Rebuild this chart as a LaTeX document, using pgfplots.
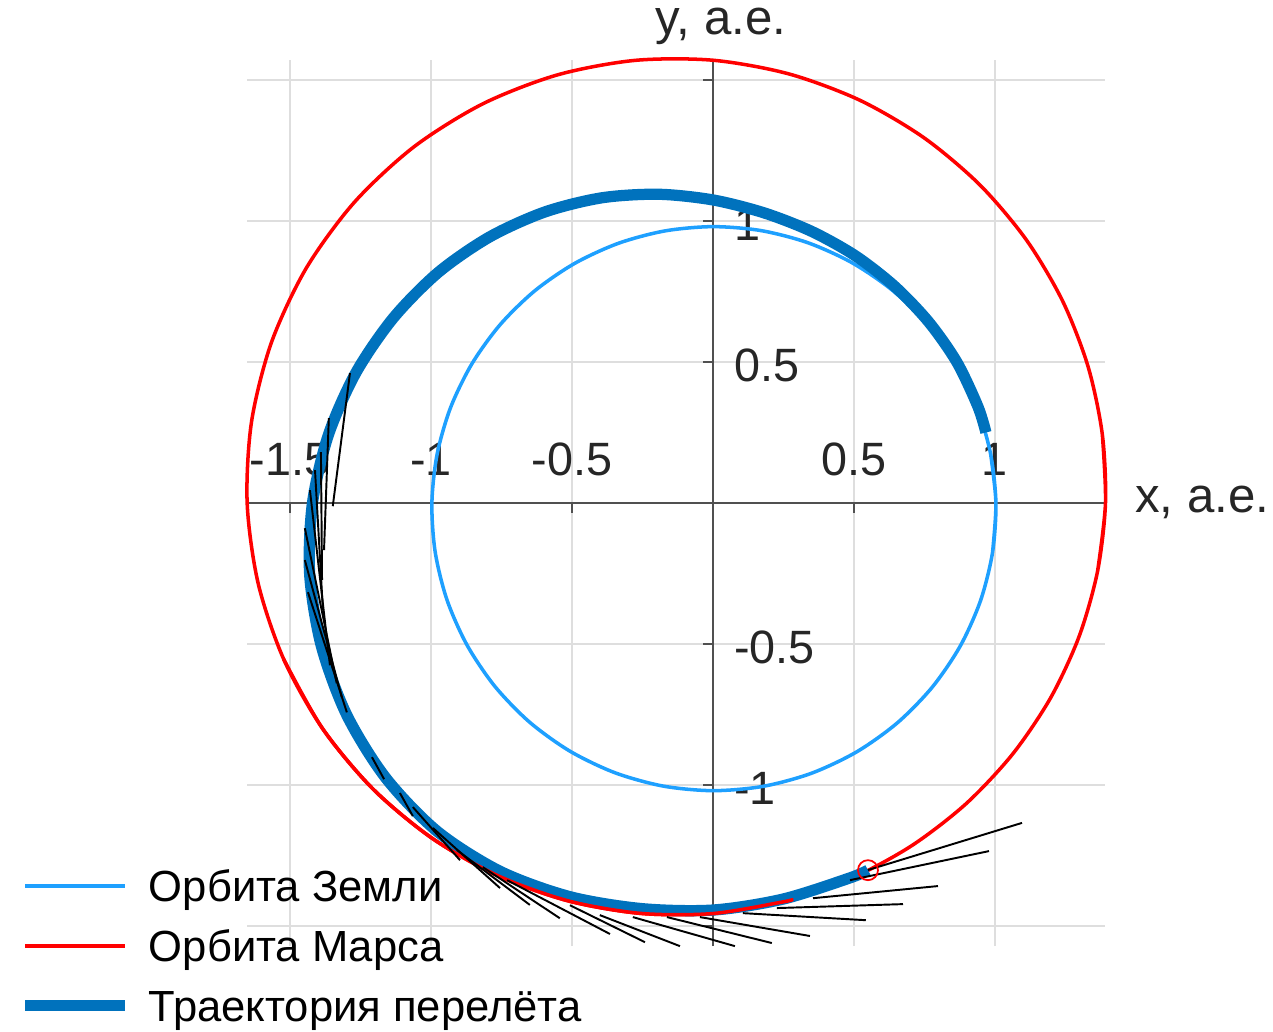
\documentclass[border=0pt]{standalone}
\usepackage{fontspec}
\setmainfont{Liberation Sans}
\usepackage{pgfplots}
\pgfplotsset{compat=1.18}

\definecolor{earthblue}{RGB}{30,160,255}
\definecolor{trajblue}{RGB}{0,114,189}
\definecolor{gridgray}{RGB}{222,222,222}
\definecolor{axisgray}{RGB}{80,80,80}
\definecolor{labelgray}{RGB}{38,38,38}

\begin{document}
\begin{tikzpicture}
\begin{axis}[
  set layers,
  x=2.82cm, y=2.82cm,
  xmin=-1.652, xmax=1.392, ymin=-1.571, ymax=1.572,
  clip=false,
  axis lines=middle,
  axis line style={-, draw=axisgray, line width=0.6pt},
  tick align=outside,
  major tick length=0.95mm,
  tick style={draw=axisgray, line width=0.6pt},
  xtick={-1.5,-1,-0.5,0.5,1},
  xticklabels={-1.5,-1,-0.5,0.5,1},
  ytick={-1.5,-1,-0.5,0.5,1,1.5},
  yticklabels={,-1,-0.5,0.5,1,},
  grid=major,
  major grid style={draw=gridgray, line width=0.55pt},
  every tick label/.append style={font=\fontsize{13.3}{15}\selectfont, text=labelgray, inner sep=0pt},
  xticklabel style={anchor=base, yshift=3.7mm},
  yticklabel style={anchor=base west, xshift=3mm, yshift=-1.9mm},
  xlabel={x, а.е.}, ylabel={y, а.е.},
  xlabel style={at={(current axis.right of origin)}, anchor=base west, xshift=2.9mm, yshift=-0.9mm,
    font=\fontsize{14}{16}\selectfont, text=labelgray, inner sep=0pt},
  ylabel style={at={(current axis.above origin)}, anchor=base, xshift=0.8mm, yshift=2.5mm,
    font=\fontsize{14}{16}\selectfont, text=labelgray, inner sep=0pt},
  legend cell align=left,
  legend image code/.code={\draw[#1] (0mm,0mm) -- (10mm,0mm);},
  legend style={draw=none, fill=none, at={(-0.2657,0.0965)}, anchor=north west,
    inner sep=0pt, row sep=1.1mm,
    /tikz/every odd column/.append style={column sep=1.8mm},
    nodes={inner sep=0pt, text height=4.0mm, text depth=0.9mm, font=\fontsize{12.4}{14}\selectfont}},
]

% Earth orbit (polar: angle in degrees, radius in AU)
\addplot[earthblue, line width=1pt, smooth, data cs=polar] coordinates {
 (-10,1.0068) (0,1.0035) (10,1.0) (20,0.9965) (30,0.9932) (40,0.99) (50,0.9871) (60,0.9847)
 (70,0.9827) (80,0.9812) (90,0.9803) (100,0.98) (110,0.9803) (120,0.9812) (130,0.9827)
 (140,0.9847) (150,0.9871) (160,0.99) (170,0.9932) (180,0.9965) (190,1.0) (200,1.0035)
 (210,1.0068) (220,1.01) (230,1.0129) (240,1.0153) (250,1.0173) (260,1.0188) (270,1.0197)
 (280,1.02) (290,1.0197) (300,1.0188) (310,1.0173) (320,1.0153) (330,1.0129) (340,1.01)
 (350,1.0068) (360,1.0035) (370,1.0)
};
\addlegendentry{Орбита Земли}

% Mars orbit
\addplot[red, line width=1pt, smooth, data cs=polar] coordinates {
 (-10,1.3852) (0,1.3920) (10,1.4021) (20,1.4156) (30,1.4321) (40,1.4513) (50,1.4728)
 (60,1.4961) (70,1.5206) (80,1.5456) (90,1.5704) (100,1.5940) (110,1.6155) (120,1.6342)
 (130,1.6492) (140,1.6597) (150,1.6654) (160,1.6659) (170,1.6613) (180,1.6516) (190,1.6375)
 (200,1.6195) (210,1.5985) (220,1.5752) (230,1.5506) (240,1.5256) (250,1.5009) (260,1.4773)
 (270,1.4554) (280,1.4357) (290,1.4187) (300,1.4046) (310,1.3937) (320,1.3862) (330,1.3823)
 (340,1.3819) (350,1.3852) (360,1.3920) (370,1.4021)
};
\addlegendentry{Орбита Марса}

% Transfer trajectory
\addplot[trajblue, line width=3.2pt, smooth, data cs=polar] coordinates {
 (14.5,1.000) (20,1.000) (30,0.999) (40,0.999) (50,1.003) (60,1.012) (70,1.025) (80,1.045)
 (90,1.075) (100,1.112) (110,1.152) (120,1.192) (130,1.232) (140,1.272) (150,1.310)
 (160,1.348) (170,1.385) (180,1.420) (190,1.452) (200,1.478) (210,1.500) (220,1.515)
 (230,1.520) (240,1.508) (250,1.485) (260,1.460) (270,1.443) (280,1.426) (290,1.415)
 (292.9,1.413)
};
\addlegendentry{Траектория перелёта}

% part of the Mars orbit drawn over the trajectory
\addplot[red, line width=1pt, line cap=round, smooth, data cs=polar, forget plot] coordinates {
 (200,1.6195) (210,1.5985) (220,1.5752) (230,1.5506) (240,1.5256) (250,1.5009) (260,1.4773)
 (270,1.4554) (280,1.4357) (281.3,1.4333)
};

% thrust vectors along the trajectory
\addplot[black, line width=0.55pt, quiver={u=\thisrow{u}, v=\thisrow{v}}, forget plot] table {
x y u v
-1.287 0.461 -0.061 -0.472
-1.362 0.301 -0.017 -0.468
-1.390 0.181 0.004 -0.454
-1.411 0.117 0.028 -0.496
-1.429 0.046 0.071 -0.621
-1.447 -0.089 0.113 -0.550
-1.447 -0.202 0.131 -0.486
-1.436 -0.316 0.138 -0.426
-1.209 -0.901 0.043 -0.078
-1.110 -1.028 0.046 -0.082
-1.064 -1.078 0.167 -0.188
-0.993 -1.152 0.238 -0.213
-0.908 -1.230 0.259 -0.195
-0.816 -1.291 0.273 -0.181
-0.730 -1.337 0.365 -0.191
-0.507 -1.426 0.266 -0.131
-0.401 -1.461 0.284 -0.110
-0.284 -1.468 0.362 -0.103
-0.163 -1.468 0.372 -0.092
-0.046 -1.468 0.390 -0.067
0.106 -1.454 0.436 -0.025
0.227 -1.436 0.447 0.014
0.355 -1.401 0.443 0.043
0.486 -1.337 0.493 0.103
0.550 -1.301 0.546 0.167
};

% arrival point
\addplot[only marks, mark=o, mark size=1mm, red, mark options={line width=0.5pt}, data cs=polar, forget plot]
 coordinates {(292.9,1.413)};

\coordinate (bbsw) at (axis cs:-2.528,-1.872);
\coordinate (bbne) at (axis cs:1.986,1.784);
\end{axis}
\pgfresetboundingbox
\path (bbsw) rectangle (bbne);
\end{tikzpicture}
\end{document}
